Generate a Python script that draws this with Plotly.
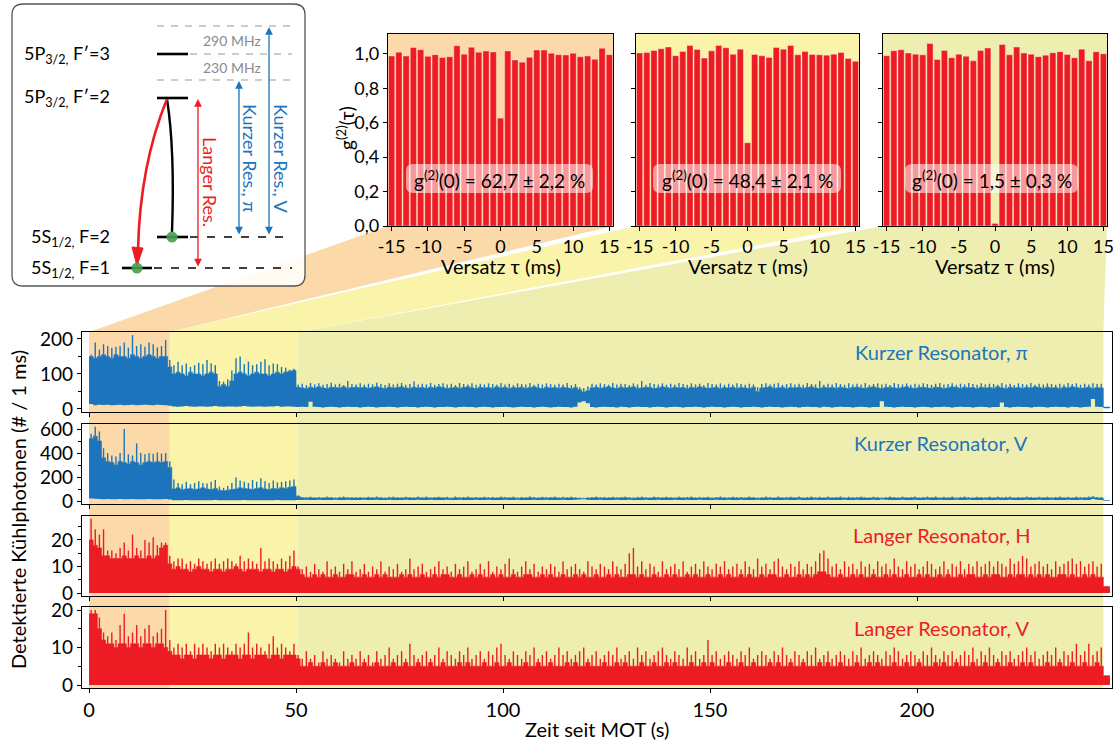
import plotly.graph_objects as go

W, H = 1120, 745
FONT = "Lato"
RED = "#ED1C24"
BLUE = "#1C75BC"
GREEN = "#43A04F"
PHASE_COLORS = ["#FCD9A8", "#F9F4A9", "#EFEEB1"]

# ---------------- g2 histograms (one per cooling phase) ----------------
tau = list(range(-15, 16))
g2_phase1 = [0.988, 1.010, 0.988, 1.037, 1.025, 0.986, 0.996, 0.979, 0.984, 1.048, 0.998,
             1.039, 1.010, 1.017, 1.012, 0.627, 1.017, 0.965, 0.952, 0.981, 1.023, 1.023,
             1.004, 0.996, 0.994, 1.004, 0.984, 0.988, 0.969, 1.033, 0.996]
g2_phase2 = [1.006, 1.008, 1.020, 1.030, 1.040, 0.990, 1.014, 1.049, 1.026, 0.976, 1.018,
             1.049, 1.036, 0.998, 1.028, 0.484, 0.997, 0.989, 0.980, 1.038, 1.028, 1.049,
             0.995, 1.014, 0.997, 0.995, 0.993, 0.999, 1.009, 0.974, 0.957]
g2_phase3 = [0.990, 1.019, 1.024, 1.005, 0.999, 0.995, 1.061, 0.968, 1.020, 0.978, 0.999,
             0.987, 0.960, 1.020, 1.034, 0.015, 1.055, 0.995, 1.040, 1.005, 0.999, 0.984,
             0.993, 1.007, 1.013, 0.997, 0.978, 1.028, 0.960, 1.013, 1.001]
g2_series = [g2_phase1, g2_phase2, g2_phase3]
g2_text = ["62,7 ± 2,2 %", "48,4 ± 2,1 %", "1,5 ± 0,3 %"]
g2_yticks = [0.0, 0.2, 0.4, 0.6, 0.8, 1.0]
g2_yticktext = ["0,0", "0,2", "0,4", "0,6", "0,8", "1,0"]
tau_ticks = [-15, -10, -5, 0, 5, 10, 15]
tau_ticktext = ["-15", "-10", "-5", "0", "5", "10", "15"]

# ---------------- photon count traces, 1 s bins from t = 0 s ----------------
phase_edges = [0.0, 19.5, 50.5, 245.0]
t_end = 246.6

# Kurzer Resonator, pi: dense upper level, needle maxima, lower edge
pi_top = [150, 145, 150, 155, 150, 145, 155, 150, 150, 145, 155, 150, 145, 150, 155, 150, 145, 150, 150, 120,
          100, 105, 100, 95, 105, 100, 100, 95, 100, 105, 100, 65, 70, 65, 80, 100, 105, 100, 95, 100,
          105, 100, 100, 95, 100, 105, 100, 105, 108, 110,
          62, 60, 58, 62, 60, 63, 60, 58, 62, 61, 60, 63, 59, 61, 62,
          60, 62, 59, 61, 63, 60, 58, 62, 60, 61, 63, 60, 59, 62, 60,
          61, 59, 62, 60, 63, 61, 58, 60, 62, 59, 61, 63, 60, 58, 62,
          60, 61, 59, 63, 60, 62, 58, 61, 60, 62, 59, 61, 63, 60, 58,
          62, 60, 61, 59, 62, 60, 58, 61, 55, 48, 52, 60, 62, 59, 61,
          63, 60, 58, 62, 60, 61, 63, 59, 60, 62, 61, 58, 60, 63, 61,
          59, 62, 60, 61, 58, 62, 60, 63, 61, 59, 60, 62, 58, 61, 60,
          62, 59, 61, 60, 58, 62, 50, 60, 61, 63, 59, 60, 62, 58, 61,
          60, 62, 59, 61, 63, 60, 58, 62, 60, 61, 59, 62, 60, 58, 61,
          62, 60, 59, 61, 63, 60, 58, 61, 62, 60, 59, 61, 63, 60, 58,
          61, 62, 60, 59, 62, 61, 58, 60, 63, 61, 59, 62, 60, 61, 58,
          62, 60, 61, 59, 63, 60, 58, 62, 60, 61, 59, 62, 60, 63, 61,
          59, 62, 60, 61, 58, 62, 60, 63, 61, 59, 60, 62, 58, 61, 60,
          5, 5]
pi_peak = [155, 190, 170, 185, 180, 175, 178, 180, 190, 175, 211, 180, 185, 178, 190, 185, 176, 180, 197, 140,
           125, 135, 125, 130, 120, 125, 132, 128, 140, 130, 125, 80, 78, 85, 110, 145, 150, 128, 135, 125,
           128, 135, 142, 125, 130, 128, 120, 118, 112, 115,
           70, 72, 68, 74, 70, 73, 69, 71, 75, 70, 72, 68, 80, 71, 70,
           73, 69, 72, 70, 75, 71, 68, 73, 70, 72, 74, 69, 71, 78, 70,
           72, 70, 74, 69, 71, 73, 70, 72, 68, 74, 71, 70, 73, 69, 72,
           70, 73, 71, 69, 74, 70, 72, 68, 73, 71, 70, 74, 69, 72, 70,
           73, 71, 69, 72, 70, 74, 68, 71, 62, 60, 64, 72, 70, 73, 71,
           69, 74, 70, 72, 71, 68, 73, 70, 80, 69, 74, 71, 70, 73, 69,
           72, 70, 74, 71, 69, 73, 70, 72, 68, 74, 71, 70, 73, 69, 72,
           70, 73, 71, 69, 72, 70, 62, 71, 73, 70, 72, 74, 69, 71, 73,
           70, 72, 69, 74, 71, 70, 80, 69, 72, 70, 74, 71, 69, 73, 70,
           72, 70, 74, 69, 71, 73, 70, 72, 68, 74, 71, 70, 73, 69, 72,
           70, 73, 71, 69, 72, 74, 70, 71, 73, 69, 72, 70, 74, 71, 69,
           73, 70, 72, 71, 69, 74, 70, 72, 68, 73, 71, 70, 74, 69, 72,
           70, 73, 71, 69, 72, 70, 74, 71, 73, 69, 72, 70, 73, 71, 72,
           5, 5]
pi_low = [14, 10, 12, 11, 12, 10, 11, 12, 10, 11, 12, 10, 11, 12, 11, 10, 12, 11, 10, 9,
          7, 6, 7, 8, 7, 6, 7, 7, 6, 7, 8, 7, 6, 7, 7, 6, 7, 8, 7, 6,
          7, 7, 6, 7, 7, 8, 6, 7, 7, 6,
          5, 6, 5, 20, 6, 5, 4, 5, 6, 5, 4, 5, 6, 5, 5,
          4, 5, 6, 5, 4, 5, 5, 6, 5, 4, 5, 6, 5, 5, 4,
          5, 6, 5, 4, 5, 5, 6, 5, 4, 5, 6, 5, 5, 4, 5,
          6, 5, 4, 5, 5, 6, 5, 4, 5, 6, 5, 5, 4, 5, 6,
          5, 4, 5, 6, 5, 5, 4, 6, 18, 22, 16, 5, 4, 5, 6,
          5, 5, 4, 6, 5, 4, 5, 6, 5, 5, 4, 5, 6, 5, 4,
          5, 6, 5, 4, 5, 5, 6, 5, 4, 5, 6, 5, 5, 4, 5,
          6, 5, 4, 5, 5, 6, 5, 4, 5, 6, 5, 5, 4, 5, 6,
          5, 4, 5, 6, 5, 5, 4, 6, 5, 4, 5, 6, 5, 5, 4,
          5, 6, 5, 4, 5, 5, 22, 6, 5, 4, 5, 6, 5, 5, 4,
          5, 6, 5, 4, 5, 5, 6, 5, 4, 5, 6, 5, 5, 4, 5,
          6, 5, 4, 5, 5, 18, 5, 4, 5, 6, 5, 5, 4, 5, 6,
          5, 4, 5, 6, 5, 5, 4, 6, 5, 4, 5, 6, 28, 6, 5,
          2, 2]

# Kurzer Resonator, V
v_top = [520, 540, 500, 360, 330, 320, 300, 330, 320, 310, 330, 320, 300, 320, 330, 320, 330, 320, 330, 280,
         100, 110, 95, 100, 105, 95, 100, 110, 100, 95, 105, 90, 85, 90, 95, 100, 110, 105, 100, 95,
         105, 110, 100, 95, 105, 100, 110, 105, 115, 120,
         40, 27, 25, 28, 24, 26, 25, 27, 26, 23, 25, 28, 26, 25, 24,
         26, 24, 27, 25, 28, 25, 23, 26, 27, 25, 24, 27, 26, 25, 28,
         25, 27, 24, 26, 28, 25, 26, 23, 27, 25, 26, 28, 24, 26, 25,
         27, 25, 26, 24, 28, 26, 25, 27, 23, 26, 25, 28, 26, 24, 27,
         25, 26, 28, 24, 26, 25, 27, 24, 22, 21, 24, 26, 28, 25, 26,
         24, 27, 25, 26, 28, 25, 23, 26, 27, 25, 24, 28, 26, 25, 27,
         26, 24, 27, 25, 26, 28, 24, 26, 25, 27, 23, 26, 28, 25, 24,
         27, 25, 26, 24, 28, 26, 22, 25, 27, 26, 24, 28, 25, 26, 27,
         25, 27, 24, 26, 28, 25, 26, 24, 27, 25, 26, 28, 24, 26, 25,
         26, 28, 25, 24, 27, 26, 23, 25, 28, 26, 24, 27, 25, 26, 28,
         24, 26, 27, 25, 28, 24, 26, 25, 27, 23, 26, 28, 25, 24, 27,
         26, 25, 27, 24, 28, 25, 26, 27, 24, 26, 25, 28, 26, 24, 27,
         25, 27, 24, 26, 28, 25, 26, 24, 27, 25, 26, 28, 32, 26, 25,
         4, 4]
v_peak = [560, 620, 580, 440, 400, 380, 370, 400, 600, 390, 380, 480, 400, 390, 400, 395, 405, 395, 400, 330,
          180, 150, 140, 160, 140, 150, 165, 150, 145, 160, 175, 120, 110, 125, 150, 195, 170, 160, 150, 175,
          160, 190, 165, 150, 170, 155, 160, 165, 170, 180,
          45, 33, 31, 36, 30, 34, 32, 37, 33, 30, 35, 38, 32, 31, 34,
          33, 30, 36, 32, 38, 31, 30, 35, 37, 32, 31, 36, 33, 30, 38,
          32, 37, 30, 34, 36, 31, 35, 30, 38, 32, 33, 37, 31, 34, 32,
          36, 31, 34, 30, 38, 33, 32, 37, 30, 34, 31, 39, 33, 30, 36,
          32, 34, 37, 30, 35, 31, 36, 30, 28, 27, 30, 34, 38, 31, 33,
          31, 36, 32, 34, 38, 31, 30, 35, 37, 32, 30, 38, 33, 31, 36,
          33, 30, 37, 31, 34, 38, 30, 35, 32, 36, 30, 34, 38, 31, 30,
          36, 31, 34, 30, 38, 33, 29, 32, 37, 34, 30, 38, 31, 33, 36,
          32, 37, 30, 34, 38, 31, 35, 30, 37, 32, 34, 38, 30, 35, 32,
          33, 38, 31, 30, 36, 34, 30, 32, 38, 33, 30, 37, 31, 34, 38,
          30, 34, 37, 32, 38, 30, 35, 31, 37, 30, 34, 38, 32, 30, 36,
          34, 31, 37, 30, 38, 32, 35, 37, 30, 34, 31, 38, 33, 30, 36,
          31, 36, 30, 34, 38, 32, 35, 30, 37, 32, 34, 38, 40, 33, 31,
          4, 4]
v_low = [20, 18, 16, 15, 16, 14, 15, 16, 15, 14, 16, 15, 14, 15, 16, 15, 14, 15, 16, 12,
         7, 6, 7, 8, 7, 6, 7, 7, 6, 7, 8, 7, 6, 7, 7, 6, 7, 8, 7, 6,
         7, 7, 6, 7, 7, 8, 6, 7, 7, 6,
         8, 9, 10, 9, 8, 10, 9, 8, 9, 10, 9, 8, 10, 9, 8,
         9, 10, 8, 9, 10, 9, 8, 10, 9, 8, 9, 10, 9, 8, 10,
         9, 8, 10, 9, 8, 9, 10, 9, 8, 10, 9, 8, 9, 10, 9,
         8, 10, 9, 8, 9, 10, 9, 8, 10, 9, 8, 9, 10, 9, 8,
         10, 9, 8, 9, 10, 8, 9, 10, 12, 14, 11, 9, 8, 10, 9,
         8, 9, 10, 9, 8, 10, 9, 8, 9, 10, 9, 8, 10, 9, 8,
         9, 10, 8, 9, 10, 9, 8, 10, 9, 8, 9, 10, 9, 8, 10,
         9, 8, 10, 9, 8, 9, 10, 9, 8, 10, 9, 8, 9, 10, 9,
         8, 10, 9, 8, 9, 10, 9, 8, 10, 9, 8, 9, 10, 9, 8,
         10, 9, 8, 9, 10, 8, 12, 10, 9, 8, 9, 10, 8, 9, 10,
         8, 9, 10, 9, 8, 10, 9, 8, 9, 10, 9, 8, 10, 9, 8,
         9, 10, 8, 9, 10, 9, 8, 10, 9, 8, 9, 10, 9, 8, 10,
         9, 8, 10, 9, 8, 9, 10, 9, 8, 10, 9, 8, 16, 10, 9,
         2, 2]

# Langer Resonator, H: dense level and needle maxima
h_top = [20, 18, 17, 14, 14, 13, 13, 13, 14, 13, 13, 14, 13, 13, 14, 13, 14, 17, 18, 11,
         9, 10, 9, 9, 8, 9, 10, 9, 9, 8, 9, 9, 8, 9, 9, 10, 9, 8, 9, 9,
         9, 8, 9, 9, 8, 9, 9, 8, 9, 10,
         9, 7, 6, 6, 7, 6, 7, 6, 6, 7, 6, 6, 7, 7, 6,
         6, 7, 6, 6, 7, 6, 7, 6, 6, 6, 7, 6, 7, 6, 6,
         7, 6, 6, 7, 6, 7, 7, 6, 6, 7, 6, 6, 7, 6, 7,
         6, 6, 7, 6, 7, 6, 6, 7, 6, 6, 7, 7, 6, 6, 7,
         6, 7, 6, 6, 7, 6, 6, 7, 6, 7, 6, 6, 7, 6, 6,
         7, 6, 7, 6, 6, 7, 7, 6, 7, 6, 6, 7, 6, 6, 7,
         6, 7, 6, 6, 7, 6, 7, 6, 6, 7, 6, 6, 7, 6, 7,
         6, 6, 7, 6, 7, 6, 6, 7, 6, 7, 7, 6, 6, 7, 6,
         6, 7, 6, 7, 6, 7, 8, 8, 7, 6, 6, 7, 6, 6, 7,
         6, 7, 6, 6, 7, 6, 6, 7, 6, 7, 6, 6, 7, 6, 6,
         7, 6, 7, 6, 6, 7, 6, 7, 6, 6, 7, 6, 7, 7, 6,
         6, 7, 6, 7, 7, 6, 6, 7, 6, 7, 7, 6, 7, 6, 7,
         6, 7, 6, 6, 7, 7, 6, 7, 6, 6, 7, 6, 7, 6, 6,
         2.5, 2.5]
h_peak = [28, 24, 22, 24, 16, 16, 15, 17, 19, 16, 22, 17, 16, 20, 19, 21, 18, 19, 19, 14,
          12, 13, 13, 11, 12, 11, 13, 12, 11, 12, 13, 11, 12, 13, 12, 11, 14, 12, 13, 12,
          11, 17, 12, 13, 12, 11, 13, 12, 14, 16,
          10, 9, 10, 8, 11, 9, 8, 12, 9, 10, 8, 11, 9, 12, 8,
          9, 11, 8, 10, 9, 12, 8, 10, 9, 11, 8, 9, 13, 9, 10,
          11, 8, 9, 10, 12, 9, 10, 8, 11, 9, 10, 12, 8, 9, 11,
          9, 12, 8, 10, 9, 11, 13, 9, 8, 10, 12, 9, 11, 8, 10,
          9, 11, 10, 8, 12, 9, 10, 11, 9, 8, 12, 10, 9, 11, 10,
          9, 12, 10, 9, 11, 15, 17, 10, 12, 9, 11, 10, 8, 12, 9,
          10, 11, 9, 12, 8, 10, 11, 9, 12, 10, 9, 11, 10, 12, 9,
          10, 11, 9, 12, 10, 9, 13, 10, 11, 9, 12, 13, 10, 9, 11,
          10, 12, 9, 11, 10, 12, 15, 16, 13, 10, 11, 9, 12, 10, 11,
          9, 12, 10, 11, 9, 12, 10, 11, 9, 13, 10, 9, 12, 10, 11,
          9, 10, 12, 11, 9, 10, 12, 9, 11, 10, 12, 9, 11, 10, 12,
          10, 11, 12, 10, 12, 11, 10, 13, 11, 12, 14, 13, 10, 11, 12,
          10, 11, 9, 12, 10, 11, 12, 13, 11, 12, 10, 11, 12, 10, 11,
          2.5, 2.5]

# Langer Resonator, V
lv_top = [19, 19, 15, 12, 11, 11, 10, 11, 11, 10, 11, 11, 10, 11, 11, 10, 11, 11, 10, 9,
          8, 8, 7, 8, 8, 7, 8, 8, 8, 7, 8, 8, 7, 8, 8, 8, 7, 8, 8, 7,
          8, 8, 8, 7, 8, 8, 7, 8, 8, 8,
          7, 5, 5, 6, 5, 5, 6, 5, 5, 6, 5, 5, 5, 6, 5,
          5, 6, 5, 5, 6, 5, 5, 5, 6, 5, 5, 6, 5, 5, 6,
          5, 5, 6, 5, 5, 6, 5, 5, 5, 6, 5, 6, 5, 5, 5,
          6, 5, 5, 6, 5, 5, 6, 5, 5, 5, 6, 5, 5, 6, 5,
          5, 6, 5, 5, 5, 6, 5, 6, 5, 5, 6, 5, 5, 5, 6,
          5, 5, 6, 5, 6, 5, 5, 5, 6, 5, 5, 6, 5, 5, 6,
          5, 6, 5, 5, 5, 6, 5, 5, 6, 5, 6, 5, 5, 5, 6,
          5, 5, 6, 5, 5, 6, 5, 5, 5, 6, 5, 6, 5, 5, 6,
          5, 5, 6, 5, 5, 5, 6, 5, 6, 5, 5, 6, 5, 5, 5,
          6, 5, 5, 6, 5, 6, 5, 5, 5, 6, 5, 5, 6, 5, 5,
          6, 5, 5, 5, 6, 5, 6, 5, 5, 6, 5, 5, 5, 6, 5,
          5, 6, 5, 5, 6, 5, 5, 6, 5, 5, 6, 5, 6, 5, 5,
          5, 6, 5, 5, 6, 5, 5, 6, 5, 5, 6, 5, 5, 6, 5,
          2.5, 2.5]
lv_peak = [20, 20, 18, 14, 13, 14, 12, 16, 19, 13, 14, 16, 13, 15, 16, 13, 14, 15, 20, 12,
           10, 11, 10, 11, 9, 11, 10, 11, 10, 9, 11, 10, 11, 10, 9, 11, 10, 11, 14, 10,
           11, 10, 9, 11, 13, 10, 11, 10, 9, 11,
           8, 7, 9, 7, 8, 6, 9, 7, 8, 7, 6, 9, 7, 8, 7,
           9, 7, 8, 6, 9, 7, 8, 10, 7, 8, 9, 7, 11, 8, 7,
           8, 9, 7, 8, 10, 7, 9, 8, 7, 9, 8, 10, 7, 8, 9,
           7, 9, 8, 10, 11, 8, 7, 9, 8, 7, 9, 8, 10, 7, 8,
           9, 7, 8, 10, 8, 9, 7, 8, 9, 10, 7, 8, 9, 7, 8,
           9, 8, 10, 7, 8, 9, 7, 10, 8, 9, 7, 8, 9, 10, 8,
           7, 9, 8, 7, 10, 8, 9, 7, 8, 12, 8, 9, 7, 8, 9,
           8, 7, 9, 8, 10, 7, 8, 9, 8, 7, 9, 8, 10, 8, 7,
           9, 8, 7, 9, 8, 10, 7, 8, 9, 7, 8, 9, 8, 7, 9,
           8, 10, 7, 8, 9, 8, 7, 9, 8, 10, 9, 7, 8, 9, 8,
           7, 9, 8, 10, 8, 7, 9, 8, 9, 7, 8, 9, 8, 10, 7,
           9, 8, 10, 8, 7, 9, 8, 9, 7, 8, 9, 10, 8, 9, 7,
           8, 9, 8, 10, 7, 9, 8, 9, 11, 8, 9, 11, 8, 9, 10,
           2.5, 2.5]

panel_names = ["Kurzer Resonator, π", "Kurzer Resonator, V", "Langer Resonator, H", "Langer Resonator, V"]
panel_yranges = [[-9, 220], [-25, 642], [-1.1, 29], [-0.8, 20.8]]
panel_dticks = [100, 200, 10, 10]
time_range = [-1.7, 247.1]

# ---------------- page geometry (pixels, y downward) ----------------
HIST_X = [(388, 613), (636, 859), (883, 1107)]
HIST_Y = (34, 226)
PAN_X = (82, 1112)
PAN_Y = [(332, 412), (424, 504), (516, 596), (607, 688)]


def fx(p):
    return p / W


def fy(p):
    return 1 - p / H


def pt(x, y):
    return f"{fx(x):.5f},{fy(y):.5f}"


def t_to_px(t):
    return PAN_X[0] + (t - time_range[0]) / (time_range[1] - time_range[0]) * (PAN_X[1] - PAN_X[0])


def rrect(x0, y0, x1, y1, r):
    return (f"M{pt(x0 + r, y0)} L{pt(x1 - r, y0)} Q{pt(x1, y0)} {pt(x1, y0 + r)} "
            f"L{pt(x1, y1 - r)} Q{pt(x1, y1)} {pt(x1 - r, y1)} L{pt(x0 + r, y1)} "
            f"Q{pt(x0, y1)} {pt(x0, y1 - r)} L{pt(x0, y0 + r)} Q{pt(x0, y0)} {pt(x0 + r, y0)} Z")


def step_xy(vals):
    xs = list(range(len(vals))) + [t_end]
    ys = list(vals) + [vals[-1]]
    return xs, ys


def needles(base, peak):
    xs, ys = [], []
    for t, (b, p) in enumerate(zip(base, peak)):
        if p > b:
            xs += [t + 0.5, t + 0.5, None]
            ys += [b, p, None]
    return xs, ys


fig = go.Figure()

# histogram bars
for i, g2 in enumerate(g2_series):
    suffix = "" if i == 0 else str(i + 1)
    fig.add_trace(go.Bar(x=tau, y=g2, width=0.86, marker=dict(color=RED, line=dict(color="rgba(255,255,255,0.5)", width=0.7)),
                         xaxis="x" + suffix, yaxis="y" + suffix, hoverinfo="skip"))

# time traces
traces = [("band", pi_low, pi_top, pi_peak, BLUE), ("band", v_low, v_top, v_peak, BLUE),
          ("fill", None, h_top, h_peak, RED), ("fill", None, lv_top, lv_peak, RED)]
for k, (kind, low, top, peak, col) in enumerate(traces):
    xa, ya = f"x{k + 4}", f"y{k + 4}"
    if kind == "band":
        lx, ly = step_xy(low)
        fig.add_trace(go.Scatter(x=lx, y=ly, mode="lines", line=dict(shape="hv", width=0, color=col),
                                 xaxis=xa, yaxis=ya, hoverinfo="skip"))
        ux, uy = step_xy(top)
        fig.add_trace(go.Scatter(x=ux, y=uy, mode="lines", line=dict(shape="hv", width=0.6, color=col),
                                 fill="tonexty", fillcolor=col, xaxis=xa, yaxis=ya, hoverinfo="skip"))
    else:
        ux, uy = step_xy(top)
        fig.add_trace(go.Scatter(x=ux, y=uy, mode="lines", line=dict(shape="hv", width=0.6, color=col),
                                 fill="tozeroy", fillcolor=col, xaxis=xa, yaxis=ya, hoverinfo="skip"))
    nx, ny = needles(top, peak)
    fig.add_trace(go.Scatter(x=nx, y=ny, mode="lines", line=dict(width=1.4, color=col),
                             xaxis=xa, yaxis=ya, hoverinfo="skip"))

# ---------------- axes ----------------
axis_common = dict(showline=True, linecolor="black", linewidth=1.2, mirror=True, ticks="outside",
                   ticklen=4, tickwidth=1.1, tickcolor="black", showgrid=False, zeroline=False,
                   automargin=False)
layout = dict(width=W, height=H, margin=dict(l=0, r=0, t=0, b=0, pad=0, autoexpand=False), autosize=False,
              paper_bgcolor="white", plot_bgcolor="rgba(0,0,0,0)", showlegend=False,
              font=dict(family=FONT, size=16, color="black"), barmode="overlay")

for i in range(3):
    suffix = "" if i == 0 else str(i + 1)
    layout["xaxis" + suffix] = dict(axis_common, domain=[fx(HIST_X[i][0]), fx(HIST_X[i][1])],
                                    anchor="y" + suffix, range=[-15.5, 15.5], tickvals=tau_ticks,
                                    ticktext=tau_ticktext, tickfont=dict(size=18))
    layout["yaxis" + suffix] = dict(axis_common, domain=[fy(HIST_Y[1]), fy(HIST_Y[0])],
                                    anchor="x" + suffix, range=[0, 1.116], tickvals=g2_yticks,
                                    ticktext=g2_yticktext, showticklabels=(i == 0), tickfont=dict(size=18))

for k in range(4):
    n = k + 4
    layout[f"xaxis{n}"] = dict(axis_common, domain=[fx(PAN_X[0]), fx(PAN_X[1])], anchor=f"y{n}",
                               range=time_range, tick0=0, dtick=50, showticklabels=(k == 3),
                               tickfont=dict(size=20))
    layout[f"yaxis{n}"] = dict(axis_common, domain=[fy(PAN_Y[k][1]), fy(PAN_Y[k][0])], anchor=f"x{n}",
                               range=panel_yranges[k], tick0=0, dtick=panel_dticks[k],
                               minor=dict(ticks="outside", ticklen=2.5, dtick=panel_dticks[k] / 2,
                                          tickcolor="black", tickwidth=1),
                               tickfont=dict(size=19))

# ---------------- shapes ----------------
shapes = []
# fans linking each cooling phase to its histogram
for i in range(3):
    xl, xr = t_to_px(phase_edges[i]), t_to_px(phase_edges[i + 1])
    hl, hr = HIST_X[i]
    path = (f"M{pt(xl, PAN_Y[0][0])} L{pt(hl, HIST_Y[1])} L{pt(hl, HIST_Y[0])} "
            f"L{pt(hr, HIST_Y[0])} L{pt(hr, HIST_Y[1])} L{pt(xr, PAN_Y[0][0])} Z")
    shapes.append(dict(type="path", path=path, xref="paper", yref="paper", fillcolor=PHASE_COLORS[i],
                       line=dict(width=0), layer="below"))
    # phase shading across all time panels
    shapes.append(dict(type="rect", xref="x4", yref="paper", x0=phase_edges[i], x1=phase_edges[i + 1],
                       y0=fy(PAN_Y[3][1]), y1=fy(PAN_Y[0][0]), fillcolor=PHASE_COLORS[i],
                       line=dict(width=0), layer="below"))

# level scheme box
shapes.append(dict(type="path", path=rrect(12, 4, 305, 286, 11), xref="paper", yref="paper",
                   fillcolor="rgba(255,255,255,0.85)", line=dict(color="#555555", width=1.3), layer="below"))


def seg(x0, y0, x1, y1, color="black", width=2.6, dash=None):
    ln = dict(color=color, width=width)
    if dash:
        ln["dash"] = dash
    return dict(type="line", xref="paper", yref="paper", x0=fx(x0), y0=fy(y0), x1=fx(x1), y1=fy(y1),
                line=ln, layer="above")


GREY = "#9a9a9a"
shapes += [
    seg(157, 26, 292, 26, GREY, 1.2, "7px,7px"),
    seg(190, 54, 292, 54, GREY, 1.2, "7px,7px"),
    seg(157, 80, 292, 80, GREY, 1.2, "7px,7px"),
    seg(157, 54, 188, 54),
    seg(157, 98, 188, 98),
    seg(157, 237, 188, 237),
    seg(122, 268, 152, 268),
    seg(190, 237, 292, 237, "black", 1.3, "8px,9px"),
    seg(154, 268, 292, 268, "black", 1.3, "8px,9px"),
]
# decay paths
shapes.append(dict(type="path", xref="paper", yref="paper", layer="above",
                   path=f"M{pt(167, 99)} Q{pt(175, 150)} {pt(172, 232)}", line=dict(color="black", width=2.4)))
shapes.append(dict(type="path", xref="paper", yref="paper", layer="above",
                   path=f"M{pt(167, 99)} Q{pt(140, 165)} {pt(138, 250)}", line=dict(color=RED, width=2.6)))
shapes.append(dict(type="path", xref="paper", yref="paper", layer="above",
                   path=f"M{pt(137, 266)} L{pt(132, 247)} L{pt(143, 248)} Z", fillcolor=RED, line=dict(color=RED, width=1)))
# atoms
for cx, cy in [(172, 237), (137, 268)]:
    shapes.append(dict(type="circle", xref="paper", yref="paper", layer="above",
                       x0=fx(cx - 5.5), x1=fx(cx + 5.5), y0=fy(cy + 5.5), y1=fy(cy - 5.5),
                       fillcolor=GREEN, opacity=0.9, line=dict(width=0)))

# value boxes in histograms
box_x = [(406, 593), (653, 841), (905, 1078)]
for x0, x1 in box_x:
    shapes.append(dict(type="path", path=rrect(x0, 164, x1, 193, 7), xref="paper", yref="paper",
                       fillcolor="rgba(255,255,255,0.55)", line=dict(width=0), layer="above"))

layout["shapes"] = shapes

# ---------------- annotations ----------------
ann = []


def label(x, y, s, size=17, color="black", angle=0, xanchor="center"):
    ann.append(dict(x=fx(x), y=fy(y), xref="paper", yref="paper", text=s, showarrow=False,
                    font=dict(family=FONT, size=size, color=color), textangle=angle,
                    xanchor=xanchor, yanchor="middle"))


def double_arrow(x, y0, y1, color):
    ann.append(dict(x=fx(x), y=fy(y0), xref="paper", yref="paper", ax=0, ay=y1 - y0,
                    axref="pixel", ayref="pixel", text="", showarrow=True, arrowside="end+start",
                    arrowhead=2, arrowsize=1.2, arrowwidth=1.3, arrowcolor=color))


label(112, 54, "5P<sub>3/2,</sub> F′=3", size=18, xanchor="right")
label(112, 98, "5P<sub>3/2,</sub> F′=2", size=18, xanchor="right")
label(112, 237, "5S<sub>1/2,</sub> F=2", size=18, xanchor="right")
label(112, 268, "5S<sub>1/2,</sub> F=1", size=18, xanchor="right")
label(232, 40, "290 MHz", size=14, color="#8a8a8a")
label(232, 67, "230 MHz", size=14, color="#8a8a8a")
double_arrow(198, 99, 268, RED)
double_arrow(239, 81, 236, BLUE)
double_arrow(269, 27, 236, BLUE)
label(210, 182, "Langer Res.", size=18, color=RED, angle=90)
label(250, 158, "Kurzer Res., π", size=18, color=BLUE, angle=90)
label(281, 159, "Kurzer Res., V", size=18, color=BLUE, angle=90)

for i in range(3):
    cx = (HIST_X[i][0] + HIST_X[i][1]) / 2
    bx = (box_x[i][0] + box_x[i][1]) / 2
    label(bx, 179, "g<sup>(2)</sup>(0) = " + g2_text[i], size=19)
    label(cx, 266, "Versatz τ (ms)", size=20)
label(345, 128, "g<sup>(2)</sup>(τ)", size=19, angle=-90)

for k in range(4):
    col = BLUE if k < 2 else RED
    label(941, [352, 443, 535, 628][k], panel_names[k], size=20, color=col)

label(597, 729, "Zeit seit MOT (s)", size=20)
label(18, 510, "Detektierte Kühlphotonen (# / 1 ms)", size=20, angle=-90)

layout["annotations"] = ann
fig.update_layout(**layout)
fig.write_html("out.html", post_script="document.body.style.margin='0px';")
